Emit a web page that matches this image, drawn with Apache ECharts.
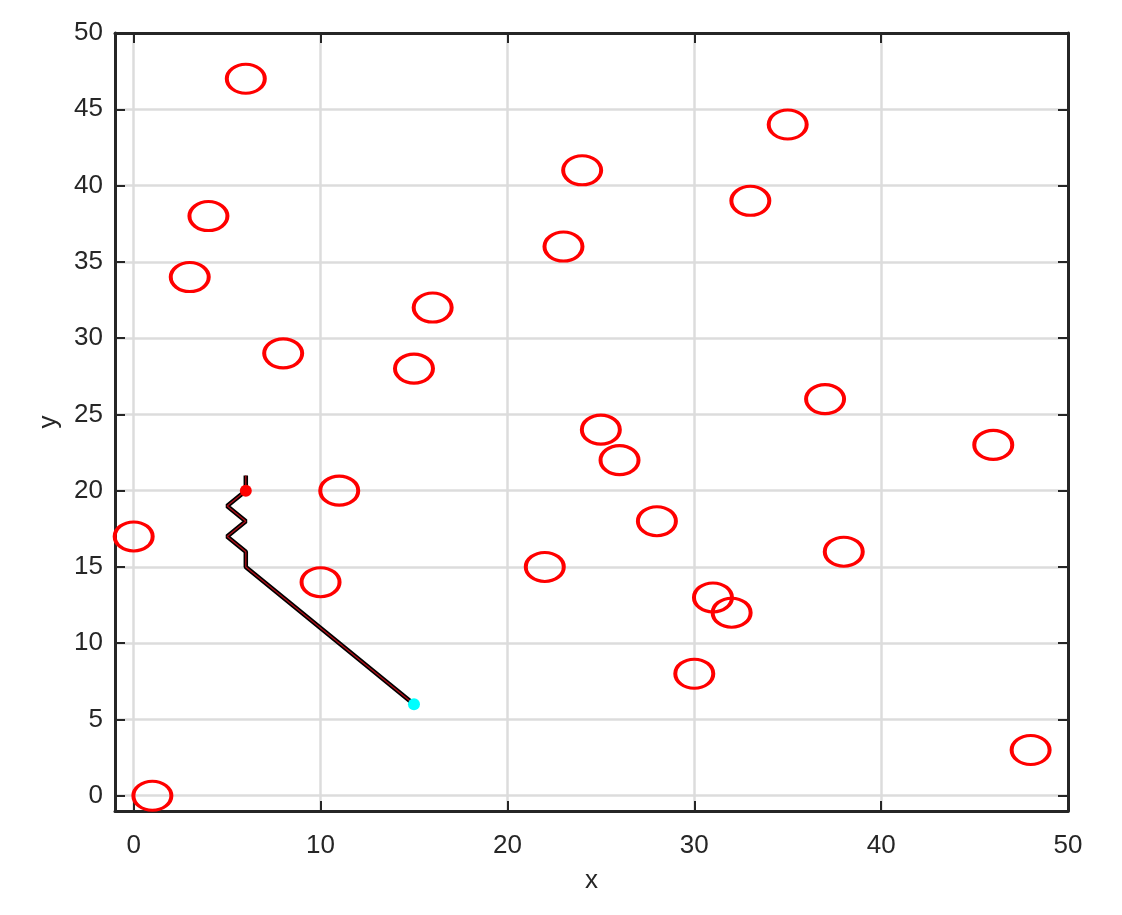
<!DOCTYPE html>
<html>
<head>
<meta charset="utf-8">
<script src="https://cdn.jsdelivr.net/npm/echarts@6/dist/echarts.min.js"></script>
<style>
    html, body { margin: 0; padding: 0; background: #fff; }
    #main { width: 1122px; height: 915px; }
</style>
</head>
<body>
<div id="main"></div>
<script>
    // 障碍物圆心
    var obstacles = [
        [6, 47], [35, 44], [24, 41], [4, 38], [33, 39], [23, 36], [3, 34],
        [16, 32], [8, 29], [15, 28], [37, 26], [25, 24], [46, 23], [26, 22],
        [11, 20], [0, 17], [28, 18], [38, 16], [22, 15], [10, 14], [31, 13],
        [32, 12], [30, 8], [48, 3], [1, 0]
    ];
    // 路径
    var pathPoints = [
        [6, 21], [6, 20], [5, 19], [6, 18], [5, 17], [6, 16], [6, 15], [15, 6]
    ];
    var startPoint = [[6, 20]];
    var endPoint = [[15, 6]];
    var xTicks = [0, 10, 20, 30, 40, 50];
    var yTicks = [0, 5, 10, 15, 20, 25, 30, 35, 40, 45, 50];

    var myChart = echarts.init(document.getElementById('main'));
    var font = 'Liberation Sans, Arial, sans-serif';
    var axisLine = { show: true, onZero: false, lineStyle: { color: '#262626', width: 3 } };
    function tick(vals) {
        return { show: true, inside: true, length: 10, customValues: vals, lineStyle: { color: '#262626', width: 2 } };
    }

    var option = {
        animation: false,
        grid: { left: 115, right: 54, top: 33, bottom: 104 },
        xAxis: [
            {
                type: 'value',
                position: 'bottom',
                min: -1,
                max: 50,
                axisLine: axisLine,
                axisTick: tick(xTicks),
                axisLabel: { customValues: xTicks, color: '#262626', fontSize: 26, fontFamily: font, margin: 22 },
                splitLine: { show: true, customValues: xTicks, lineStyle: { color: '#dcdcdc', width: 2.5 } },
                name: 'x',
                nameLocation: 'middle',
                nameGap: 57,
                nameTextStyle: { color: '#262626', fontSize: 26, fontFamily: font }
            },
            {
                type: 'value',
                position: 'top',
                min: -1,
                max: 50,
                axisLine: axisLine,
                axisTick: tick(xTicks),
                axisLabel: { show: false },
                splitLine: { show: false }
            }
        ],
        yAxis: [
            {
                type: 'value',
                position: 'left',
                min: -1,
                max: 50,
                axisLine: axisLine,
                axisTick: tick(yTicks),
                axisLabel: { customValues: yTicks, color: '#262626', fontSize: 26, fontFamily: font, margin: 12 },
                splitLine: { show: true, customValues: yTicks, lineStyle: { color: '#dcdcdc', width: 2.5 } },
                name: 'y',
                nameLocation: 'middle',
                nameGap: 53,
                nameRotate: 90,
                nameTextStyle: { color: '#262626', fontSize: 26, fontFamily: font }
            },
            {
                type: 'value',
                position: 'right',
                min: -1,
                max: 50,
                axisLine: axisLine,
                axisTick: tick(yTicks),
                axisLabel: { show: false },
                splitLine: { show: false }
            }
        ],
        series: [
            {
                name: 'obstacles',
                type: 'scatter',
                symbol: 'path://M0,1 A1,1 0 1,1 2,1 A1,1 0 1,1 0,1 Z',
                symbolSize: [38, 29],
                itemStyle: { color: 'rgba(0,0,0,0)', borderColor: '#ff0000', borderWidth: 3.5, opacity: 1 },
                data: obstacles,
                z: 3
            },
            {
                name: 'path-outer',
                type: 'line',
                symbol: 'none',
                lineStyle: { color: '#000000', width: 4.5 },
                data: pathPoints,
                z: 4
            },
            {
                name: 'path-inner',
                type: 'line',
                symbol: 'none',
                lineStyle: { color: '#b0101a', width: 1.3 },
                data: pathPoints,
                z: 5
            },
            {
                name: 'start',
                type: 'scatter',
                symbol: 'circle',
                symbolSize: 12,
                itemStyle: { color: '#ff0000', opacity: 1 },
                data: startPoint,
                z: 6
            },
            {
                name: 'end',
                type: 'scatter',
                symbol: 'circle',
                symbolSize: 12,
                itemStyle: { color: '#00ffff', opacity: 1 },
                data: endPoint,
                z: 6
            }
        ]
    };
    myChart.setOption(option);
</script>
</body>
</html>
